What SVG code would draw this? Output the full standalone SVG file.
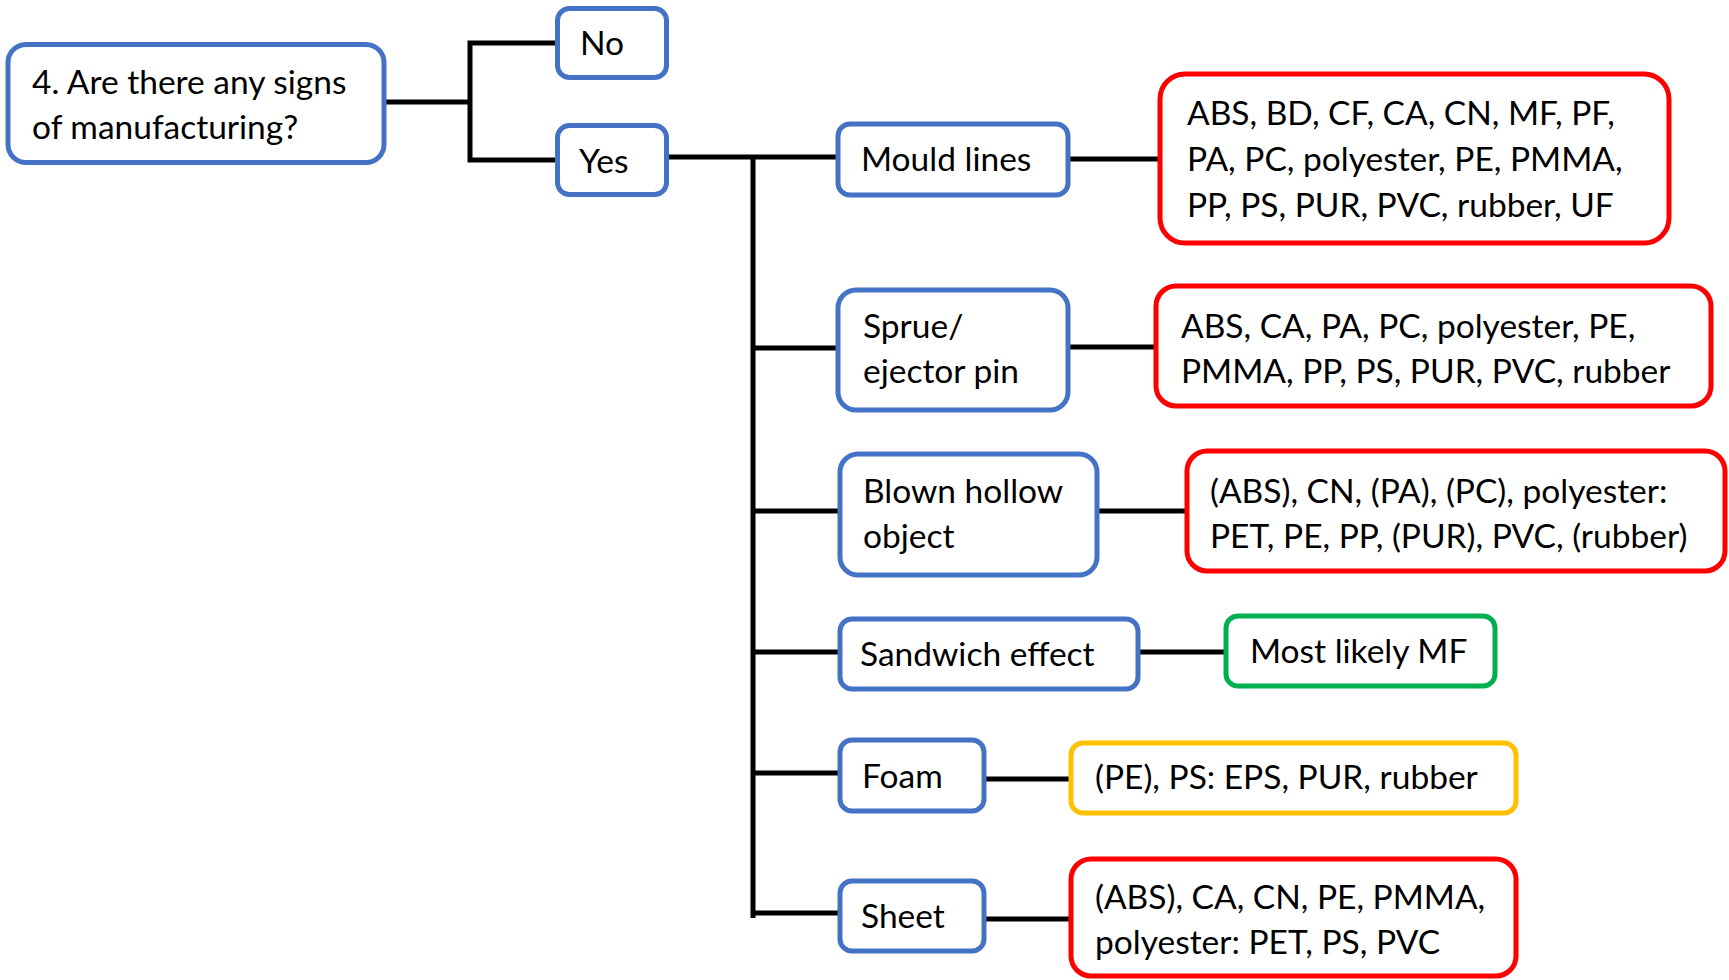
<svg xmlns="http://www.w3.org/2000/svg" width="1729" height="980" viewBox="0 0 1729 980">
<style>
.b{fill:#fff;stroke-width:5}
.blue{stroke:#4472C4}.red{stroke:#FF0000}.green{stroke:#00B050}.yellow{stroke:#FFC000}
text{font-family:Lato,"Liberation Sans",sans-serif;font-size:33.5px;fill:#000}
.c{fill:none;stroke:#000;stroke-width:5}
</style>
<rect width="1729" height="980" fill="#fff"/>
<g id="connectors">
<path class="c" d="M386 102H470M557 43H470V160H557M669 157H838M753 155V918M753 348H838M753 511H840M753 652H840M753 773H840M751 913H840M1070 159H1160M1070 347H1156M1099 511H1187M1140 652H1226M986 779H1071M986 919H1071"/>
</g>
<g id="question"><rect class="b blue" x="8" y="44.5" width="376" height="118" rx="18"/><text x="32" y="94">4. Are there any signs</text><text x="32" y="139">of manufacturing?</text></g>
<g id="no"><rect class="b blue" x="557.5" y="8.5" width="109" height="69" rx="12"/><text x="580" y="55">No</text></g>
<g id="yes"><rect class="b blue" x="557.5" y="125.5" width="109" height="69" rx="12"/><text x="579" y="173">Yes</text></g>
<g id="mould"><rect class="b blue" x="838" y="124" width="230" height="71" rx="12"/><text x="861" y="171">Mould lines</text></g>
<g id="mould-res"><rect class="b red" x="1160" y="74" width="509" height="169" rx="25"/><text x="1187" y="125">ABS, BD, CF, CA, CN, MF, PF,</text><text x="1187" y="171">PA, PC, polyester, PE, PMMA,</text><text x="1187" y="217">PP, PS, PUR, PVC, rubber, UF</text></g>
<g id="sprue"><rect class="b blue" x="838" y="290" width="230" height="120" rx="18"/><text x="863" y="338">Sprue/</text><text x="863" y="383">ejector pin</text></g>
<g id="sprue-res"><rect class="b red" x="1156" y="286" width="555" height="120" rx="20"/><text x="1181" y="338">ABS, CA, PA, PC, polyester, PE,</text><text x="1181" y="383">PMMA, PP, PS, PUR, PVC, rubber</text></g>
<g id="blown"><rect class="b blue" x="840" y="454" width="257" height="121" rx="18"/><text x="863" y="503">Blown hollow</text><text x="863" y="548">object</text></g>
<g id="blown-res"><rect class="b red" x="1187" y="451" width="538" height="120" rx="20"/><text x="1210" y="503">(ABS), CN, (PA), (PC), polyester:</text><text x="1210" y="548">PET, PE, PP, (PUR), PVC, (rubber)</text></g>
<g id="sandwich"><rect class="b blue" x="840" y="619" width="298" height="70" rx="12"/><text x="860" y="666">Sandwich effect</text></g>
<g id="sandwich-res"><rect class="b green" x="1226" y="616" width="269" height="70" rx="12"/><text x="1250" y="663">Most likely MF</text></g>
<g id="foam"><rect class="b blue" x="840" y="740" width="144" height="71" rx="12"/><text x="862" y="788">Foam</text></g>
<g id="foam-res"><rect class="b yellow" x="1071" y="743" width="445" height="70" rx="12"/><text x="1095" y="789">(PE), PS: EPS, PUR, rubber</text></g>
<g id="sheet"><rect class="b blue" x="840" y="881" width="144" height="70" rx="12"/><text x="861" y="928">Sheet</text></g>
<g id="sheet-res"><rect class="b red" x="1071" y="859" width="445" height="117" rx="20"/><text x="1095" y="909">(ABS), CA, CN, PE, PMMA,</text><text x="1095" y="954">polyester: PET, PS, PVC</text></g>
</svg>
